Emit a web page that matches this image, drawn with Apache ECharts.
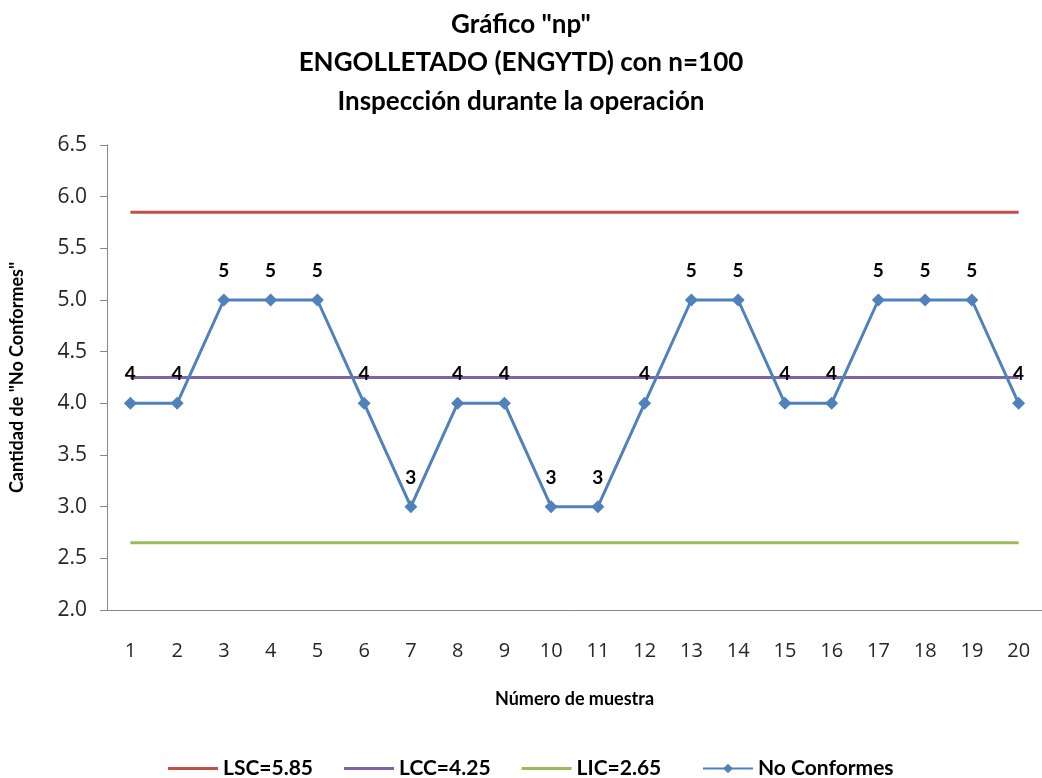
<!DOCTYPE html>
<html>
<head>
<meta charset="utf-8">
<script src="https://cdn.jsdelivr.net/npm/echarts@6/dist/echarts.min.js"></script>
<style>
  html, body { margin: 0; padding: 0; background: #fff; }
  #chart { width: 1042px; height: 778px; }
</style>
</head>
<body>
<div id="chart"></div>
<script>
// Sample numbers (1..20) and the count of non-conforming units per sample
const muestras = ['1','2','3','4','5','6','7','8','9','10','11','12','13','14','15','16','17','18','19','20'];
const noConformes = [4, 4, 5, 5, 5, 4, 3, 4, 4, 3, 3, 4, 5, 5, 4, 4, 5, 5, 5, 4];

// Control limits of the np chart
const LSC = 5.85;
const LCC = 4.25;
const LIC = 2.65;

// Y axis range
const yMin = 2.0;
const yMax = 6.5;
const yStep = 0.5;

const FONT = 'Lato, "Noto Sans", sans-serif';
const TICK_FONT = '"Open Sans", Lato, sans-serif';

const constantLine = (v) => muestras.map(() => v);

const legendText = {
  fontFamily: FONT,
  fontSize: 21,
  fontWeight: 'bold',
  color: '#000'
};

const chart = echarts.init(document.getElementById('chart'), null, { renderer: 'canvas' });

chart.setOption({
  animation: false,
  backgroundColor: '#ffffff',
  textStyle: { fontFamily: FONT },
  title: {
    text: 'Gráfico "np"\nENGOLLETADO (ENGYTD) con n=100\nInspección durante la operación',
    left: 'center',
    top: 0,
    textStyle: {
      fontFamily: FONT,
      fontSize: 26,
      fontWeight: 'bold',
      color: '#000',
      lineHeight: 38.5
    }
  },
  grid: {
    left: 104,
    top: 145,
    width: 947,
    height: 465,
    containLabel: false
  },
  legend: [
    {
      // control limits: plain line keys
      top: 753,
      left: 163,
      itemWidth: 50,
      itemHeight: 3,
      itemGap: 31,
      icon: 'rect',
      textStyle: legendText,
      data: ['LSC=5.85', 'LCC=4.25', 'LIC=2.65']
    },
    {
      // measured series: line with diamond marker
      top: 753,
      left: 697,
      itemWidth: 50,
      itemHeight: 12,
      textStyle: legendText,
      data: ['No Conformes']
    }
  ],
  xAxis: {
    type: 'category',
    data: muestras,
    boundaryGap: true,
    name: 'Número de muestra',
    nameLocation: 'middle',
    nameGap: 80,
    nameTextStyle: {
      fontFamily: FONT,
      fontSize: 18,
      fontWeight: 'bold',
      color: '#000'
    },
    axisLine: { show: true, lineStyle: { color: '#868686', width: 1 } },
    axisTick: { show: false },
    axisLabel: {
      margin: 31,
      fontFamily: TICK_FONT,
      fontSize: 20,
      color: '#262626'
    },
    splitLine: { show: false }
  },
  yAxis: {
    type: 'value',
    min: yMin,
    max: yMax,
    interval: yStep,
    name: 'Cantidad de "No Conformes"',
    nameLocation: 'middle',
    nameGap: 81,
    nameRotate: 90,
    nameTextStyle: {
      fontFamily: FONT,
      fontSize: 18,
      fontWeight: 'bold',
      color: '#000'
    },
    axisLine: { show: true, lineStyle: { color: '#868686', width: 1 } },
    axisTick: { show: true, length: 7, inside: false, lineStyle: { color: '#868686' } },
    axisLabel: {
      margin: 20,
      fontFamily: TICK_FONT,
      fontSize: 21,
      color: '#262626',
      formatter: (v) => v.toFixed(1)
    },
    splitLine: { show: false }
  },
  series: [
    {
      name: 'LSC=5.85',
      type: 'line',
      data: constantLine(LSC),
      symbol: 'none',
      lineStyle: { color: '#C0504D', width: 3 },
      itemStyle: { color: '#C0504D' }
    },
    {
      name: 'LCC=4.25',
      type: 'line',
      data: constantLine(LCC),
      symbol: 'none',
      lineStyle: { color: '#8064A2', width: 3 },
      itemStyle: { color: '#8064A2' }
    },
    {
      name: 'LIC=2.65',
      type: 'line',
      data: constantLine(LIC),
      symbol: 'none',
      lineStyle: { color: '#9BBB59', width: 3 },
      itemStyle: { color: '#9BBB59' }
    },
    {
      name: 'No Conformes',
      type: 'line',
      data: noConformes,
      symbol: 'diamond',
      symbolSize: 13,
      lineStyle: { color: '#4F81BD', width: 3 },
      itemStyle: { color: '#4F81BD' },
      label: {
        show: true,
        position: 'top',
        distance: 13,
        fontFamily: FONT,
        fontSize: 19,
        fontWeight: 'bold',
        color: '#000'
      },
      z: 5
    }
  ]
});
</script>
</body>
</html>
